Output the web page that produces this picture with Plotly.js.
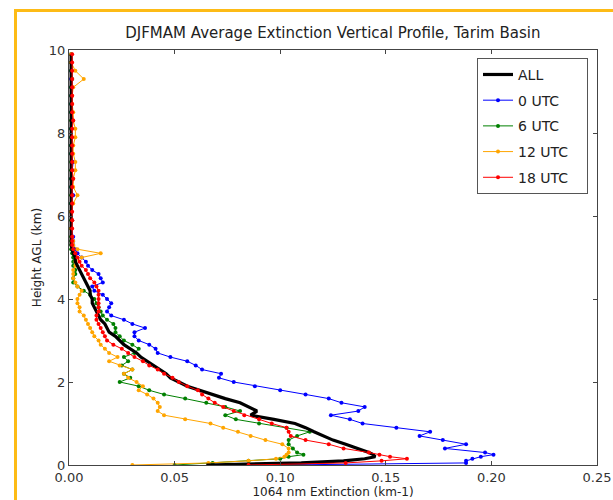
<!DOCTYPE html>
<html>
<head>
<meta charset="utf-8">
<script src="https://cdn.plot.ly/plotly-3.0.1.min.js"></script>
<style>
  html, body { margin: 0; padding: 0; background: #ffffff; }
  #wrap { position: relative; width: 613px; height: 500px; overflow: hidden; }
  #frame { position: absolute; left: 14px; top: 9px; width: 620px; height: 520px;
           border-top: 3px solid #FDBB16; border-left: 3px solid #FDBB16; }
  #chart { position: absolute; left: 0; top: 0; width: 613px; height: 500px; }
</style>
</head>
<body>
<div id="wrap">
  <div id="frame"></div>
  <div id="chart"></div>
</div>
<script>
// Heights (km AGL)
const heights = [0, 0.05, 0.1, 0.15, 0.2, 0.25, 0.3,
  0.4, 0.5, 0.6, 0.7, 0.8, 0.9, 1.0, 1.1, 1.2, 1.3,
  1.4, 1.5, 1.6, 1.7, 1.8, 1.9, 2.0, 2.1, 2.2, 2.3,
  2.4, 2.5, 2.6, 2.7, 2.8, 2.9, 3.0, 3.1, 3.2, 3.3,
  3.4, 3.5, 3.6, 3.7, 3.8, 3.9, 4.0, 4.1, 4.2, 4.3,
  4.4, 4.5, 4.6, 4.7, 4.8, 4.9, 5.0, 5.1, 5.2, 5.3,
  5.4, 5.5,
  5.7, 5.9, 6.1, 6.3, 6.5, 6.7, 6.9, 7.1, 7.3, 7.5, 7.7,
  7.9, 8.1, 8.3, 8.5, 8.7, 8.9, 9.1, 9.3, 9.5, 9.7, 9.9];

// 1064 nm extinction (km-1)
const extAll = [0.065, 0.110, 0.130, 0.140, 0.145, 0.144, 0.142,
  0.137, 0.131, 0.125, 0.120, 0.116, 0.112, 0.107, 0.097, 0.086, 0.089,
  0.085, 0.081, 0.074, 0.068, 0.061, 0.056, 0.052, 0.048, 0.046, 0.043,
  0.040, 0.037, 0.034, 0.032, 0.029, 0.026, 0.024, 0.022, 0.019, 0.018,
  0.017, 0.015, 0.014, 0.013, 0.012, 0.011, 0.011, 0.010, 0.010, 0.009,
  0.008, 0.007, 0.006, 0.005, 0.004, 0.003, 0.003, 0.002, 0.0015, 0.001,
  0.001, 0.001,
  0.001, 0.001, 0.001, 0.001, 0.001, 0.001, 0.001, 0.001, 0.001, 0.001, 0.001,
  0.001, 0.001, 0.001, 0.001, 0.001, 0.001, 0.001, 0.001, 0.001, 0.001, 0.001];

const ext00 = [0.100, 0.188, 0.188, 0.191, 0.195, 0.201, 0.197,
  0.178, 0.188, 0.177, 0.166, 0.171, 0.155, 0.139, 0.133, 0.124, 0.137,
  0.140, 0.129, 0.123, 0.112, 0.100, 0.088, 0.078, 0.071, 0.072, 0.063,
  0.060, 0.056, 0.048, 0.042, 0.041, 0.038, 0.033, 0.031, 0.031, 0.036,
  0.030, 0.026, 0.020, 0.018, 0.019, 0.020, 0.018, 0.016, 0.012, 0.011,
  0.016, 0.015, 0.014, 0.011, 0.009, 0.008, 0.006, 0.004, 0.003, 0.002,
  0.002, 0.002,
  0.001, 0.0015, 0.001, 0.001, 0.002, 0.001, 0.001, 0.0015, 0.002, 0.001, 0.001,
  0.001, 0.001, 0.0015, 0.001, 0.001, 0.001, 0.001, 0.001, 0.001, 0.001, 0.001];

const ext06 = [0.050, 0.068, 0.085, 0.100, 0.104, 0.111, 0.108,
  0.106, 0.104, 0.104, 0.108, 0.114, 0.103, 0.090, 0.079, 0.074, 0.081,
  0.074, 0.065, 0.055, 0.045, 0.038, 0.033, 0.024, 0.029, 0.026, 0.030,
  0.025, 0.028, 0.026, 0.031, 0.033, 0.030, 0.026, 0.024, 0.022, 0.022,
  0.021, 0.018, 0.016, 0.015, 0.014, 0.013, 0.012, 0.010, 0.007, 0.004,
  0.002, 0.002, 0.003, 0.003, 0.002, 0.002, 0.002, 0.0015, 0.001, 0.001,
  0.001, 0.001,
  0.001, 0.001, 0.001, 0.001, 0.001, 0.001, 0.001, 0.001, 0.001, 0.001, 0.001,
  0.001, 0.001, 0.001, 0.001, 0.001, 0.001, 0.001, 0.0015, 0.001, 0.001, 0.001];

const ext12 = [0.030, 0.066, 0.085, 0.098, 0.102, 0.103, 0.104,
  0.104, 0.101, 0.093, 0.086, 0.080, 0.073, 0.067, 0.055, 0.045, 0.042,
  0.043, 0.042, 0.040, 0.037, 0.033, 0.035, 0.032, 0.028, 0.026, 0.030,
  0.024, 0.019, 0.023, 0.019, 0.017, 0.015, 0.014, 0.012, 0.011, 0.010,
  0.009, 0.008, 0.007, 0.005, 0.005, 0.004, 0.004, 0.005, 0.006, 0.004,
  0.003, 0.002, 0.002, 0.002, 0.003, 0.003, 0.006, 0.015, 0.004, 0.002,
  0.002, 0.0015,
  0.001, 0.0015, 0.001, 0.002, 0.004, 0.002, 0.002, 0.003, 0.003, 0.002, 0.002,
  0.003, 0.003, 0.002, 0.002, 0.0015, 0.0015, 0.002, 0.007, 0.003, 0.001, 0.001];

const ext18 = [0.085, 0.131, 0.148, 0.160, 0.152, 0.147, 0.142,
  0.130, 0.123, 0.112, 0.105, 0.104, 0.103, 0.096, 0.090, 0.083, 0.078,
  0.073, 0.069, 0.066, 0.063, 0.061, 0.056, 0.052, 0.049, 0.045, 0.042,
  0.038, 0.035, 0.031, 0.028, 0.025, 0.021, 0.018, 0.017, 0.016, 0.015,
  0.014, 0.013, 0.013, 0.014, 0.014, 0.014, 0.014, 0.014, 0.014, 0.013,
  0.012, 0.010, 0.009, 0.008, 0.006, 0.005, 0.004, 0.003, 0.002, 0.0015,
  0.0015, 0.0015,
  0.0015, 0.0015, 0.0015, 0.0015, 0.0015, 0.0015, 0.002, 0.0015, 0.0015, 0.0015, 0.0015,
  0.0015, 0.0015, 0.002, 0.0015, 0.0015, 0.0015, 0.0015, 0.0015, 0.0015, 0.0015, 0.0015];

const seriesNames = ['ALL', '0 UTC', '6 UTC', '12 UTC', '18 UTC'];
const xTicks = [0, 0.05, 0.1, 0.15, 0.2, 0.25];
const xTickText = ['0.00', '0.05', '0.10', '0.15', '0.20', '0.25'];
const yTicks = [0, 2, 4, 6, 8, 10];

const FONT = 'DejaVu Sans, Arial, sans-serif';
const PAD = '\u00a0\u00a0\u00a0';

function utc(name, x, color, rank) {
  return {
    type: 'scatter', mode: 'lines+markers', name: name + PAD,
    legendgroup: name, legendrank: rank,
    x: x, y: heights,
    line: {color: color, width: 1},
    marker: {color: color, size: 4}
  };
}

const traces = [
  utc(seriesNames[1], ext00, '#0000ff', 2),
  utc(seriesNames[2], ext06, '#008000', 3),
  utc(seriesNames[3], ext12, '#ffa500', 4),
  {type: 'scatter', mode: 'lines', name: seriesNames[0] + PAD, legendgroup: seriesNames[0],
   x: extAll, y: heights, legendrank: 1, line: {color: '#000000', width: 3.2}},
  utc(seriesNames[4], ext18, '#ff0000', 5)
];

const axisCommon = {
  showgrid: false, zeroline: false, showline: true, linecolor: '#444', linewidth: 1,
  mirror: 'allticks', ticks: 'inside', ticklen: 4, tickcolor: '#444',
  tickfont: {family: FONT, size: 13, color: '#333'}
};

const layout = {
  width: 613, height: 500,
  paper_bgcolor: 'rgba(0,0,0,0)', plot_bgcolor: '#ffffff',
  margin: {l: 69, r: 16, t: 50, b: 35},
  font: {family: FONT, color: '#222'},
  title: {text: 'DJFMAM Average Extinction Vertical Profile, Tarim Basin',
          font: {family: FONT, size: 15, color: '#222'},
          x: 0.543, xanchor: 'center', y: 0.934, yanchor: 'middle', yref: 'container'},
  xaxis: Object.assign({}, axisCommon, {
    range: [0, 0.25], tickvals: xTicks, ticktext: xTickText,
    title: {text: '1064 nm Extinction (km-1)', font: {family: FONT, size: 12, color: '#222'}, standoff: 2}
  }),
  yaxis: Object.assign({}, axisCommon, {
    range: [0, 10], tickvals: yTicks,
    title: {text: 'Height AGL (km)', font: {family: FONT, size: 12, color: '#222'}, standoff: 4}
  }),
  showlegend: true,
  legend: {x: 0.983, xanchor: 'right', y: 0.981, yanchor: 'top',
           bgcolor: '#ffffff', bordercolor: '#555', borderwidth: 1,
           font: {family: FONT, size: 14, color: '#222'}, tracegroupgap: 4.5}
};

Plotly.newPlot('chart', traces, layout, {displayModeBar: false, staticPlot: true});
</script>
</body>
</html>
